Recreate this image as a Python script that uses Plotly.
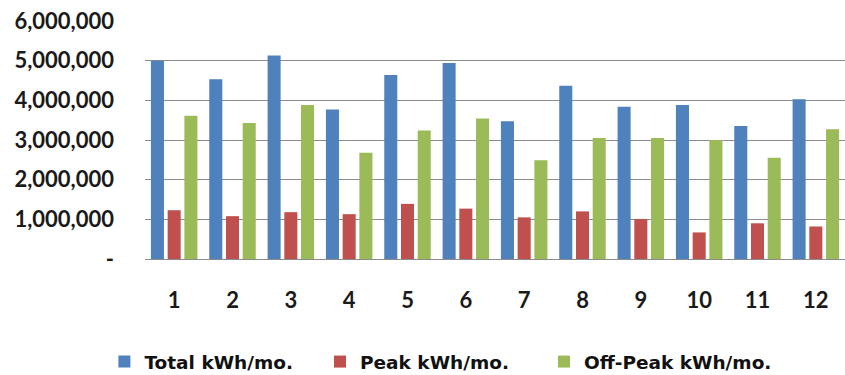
import plotly.graph_objects as go

months = ["1", "2", "3", "4", "5", "6", "7", "8", "9", "10", "11", "12"]
total_kwh = [5000000, 4530000, 5130000, 3770000, 4640000, 4940000, 3470000, 4370000, 3840000, 3880000, 3350000, 4030000]
peak_kwh = [1230000, 1080000, 1180000, 1130000, 1390000, 1270000, 1050000, 1200000, 1010000, 670000, 900000, 820000]
offpeak_kwh = [3610000, 3430000, 3880000, 2680000, 3240000, 3540000, 2490000, 3050000, 3050000, 3000000, 2550000, 3270000]
y_ticks = [0, 1000000, 2000000, 3000000, 4000000, 5000000, 6000000]
y_tick_labels = ["-", "1,000,000", "2,000,000", "3,000,000", "4,000,000", "5,000,000", "6,000,000"]

series = [
    ("Total kWh/mo.", total_kwh, "#4F81BD", "legend", -0.058),
    ("Peak kWh/mo.", peak_kwh, "#C0504D", "legend2", 0.25),
    ("Off-Peak kWh/mo.", offpeak_kwh, "#9BBB59", "legend3", 0.57),
]

tick_font = dict(family="Lato", size=22, color="#1a1a1a", weight="bold")
legend_font = dict(family="DejaVu Sans", size=18.5, color="#111111", weight="bold")

fig = go.Figure()
legends = {}
for name, vals, color, leg, lx in series:
    fig.add_trace(go.Bar(x=months, y=vals, name=name, legend=leg,
                         marker=dict(color=color, line=dict(width=0))))
    legends[leg] = dict(orientation="h", x=lx, xanchor="left", y=-0.433, yanchor="middle",
                        font=legend_font, itemwidth=30, bgcolor="rgba(0,0,0,0)")

fig.update_layout(
    width=845, height=375,
    margin=dict(l=145, r=0, t=21, b=116, autoexpand=False),
    paper_bgcolor="white", plot_bgcolor="white",
    barmode="group", bargap=0.14, bargroupgap=0.22,
    showlegend=True,
    font=dict(family="Lato", size=20, color="#1a1a1a"),
    **legends,
)
fig.update_yaxes(range=[0, 6000000], tickvals=y_ticks, ticktext=y_tick_labels,
                 showgrid=True, gridcolor="#8c8c8c", gridwidth=1, zeroline=False,
                 showline=False, ticks="", ticklabelstandoff=30, tickfont=tick_font)
fig.update_xaxes(showline=True, linecolor="#8c8c8c", linewidth=1, ticks="",
                 ticklabelstandoff=22, tickfont=tick_font)

fig.write_html("out.html")
